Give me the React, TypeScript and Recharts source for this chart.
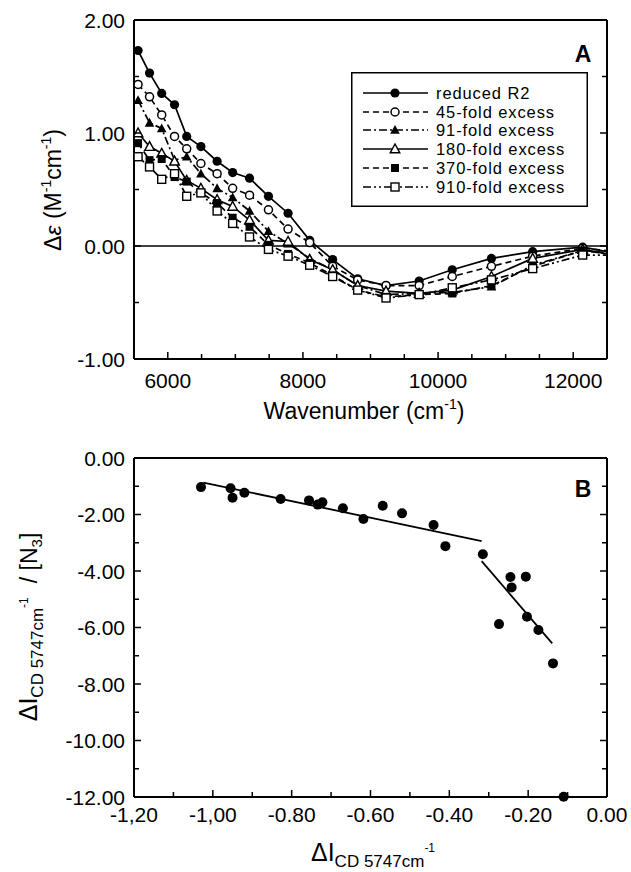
import { ComposedChart, Line, Scatter, XAxis, YAxis, ReferenceLine, Legend, Label } from "recharts";

const FONT = "'Liberation Sans', Arial, Helvetica, sans-serif";

// ---- panel A: CD spectra (marker positions) ----
const wavenumbers = [5560, 5730, 5910, 6100, 6280, 6490, 6730, 6960, 7210, 7490, 7780, 8100, 8440, 8810, 9230, 9720, 10210, 10790, 11400, 12140, 12500];
const reducedR2 = [1.73, 1.53, 1.35, 1.25, 0.97, 0.88, 0.75, 0.65, 0.6, 0.44, 0.29, 0.05, -0.12, -0.29, -0.35, -0.31, -0.21, -0.11, -0.05, -0.01, -0.05];
const fold45 = [1.43, 1.32, 1.16, 0.97, 0.86, 0.73, 0.64, 0.51, 0.45, 0.32, 0.15, 0.03, -0.18, -0.3, -0.35, -0.35, -0.27, -0.18, -0.09, -0.02, -0.04];
const fold91 = [1.29, 1.09, 1.04, 0.76, 0.79, 0.64, 0.51, 0.43, 0.31, 0.13, 0.02, -0.11, -0.21, -0.35, -0.43, -0.42, -0.41, -0.36, -0.17, -0.04, -0.07];
const fold180 = [1.0, 0.88, 0.82, 0.75, 0.58, 0.51, 0.41, 0.35, 0.23, 0.05, 0.04, -0.12, -0.21, -0.35, -0.4, -0.42, -0.39, -0.27, -0.11, -0.03, -0.07];
const fold370 = [0.91, 0.76, 0.77, 0.61, 0.57, 0.47, 0.38, 0.25, 0.17, 0.01, -0.07, -0.15, -0.26, -0.39, -0.45, -0.43, -0.42, -0.35, -0.18, -0.04, -0.06];
const fold910 = [0.79, 0.7, 0.59, 0.64, 0.44, 0.47, 0.31, 0.2, 0.08, -0.03, -0.09, -0.17, -0.27, -0.39, -0.46, -0.43, -0.37, -0.3, -0.2, -0.08, -0.08];
const seriesNames = ["reduced R2", "45-fold excess", "91-fold excess", "180-fold excess", "370-fold excess", "910-fold excess"];

const wnTicks = [5500, 6000, 6500, 7000, 7500, 8000, 8500, 9000, 9500, 10000, 10500, 11000, 11500, 12000, 12500];
const wnLabels: [number, string][] = [[6000, "6000"], [8000, "8000"], [10000, "10000"], [12000, "12000"]];
const epsTicks = [-1, -0.5, 0, 0.5, 1, 1.5, 2];
const epsLabels: [number, string][] = [[-1, "-1.00"], [0, "0.00"], [1, "1.00"], [2, "2.00"]];

// ---- panel B: slope vs CD intensity change ----
const dICD = [-1.03, -0.955, -0.95, -0.92, -0.828, -0.756, -0.734, -0.722, -0.67, -0.618, -0.569, -0.52, -0.44, -0.41, -0.315, -0.274, -0.245, -0.242, -0.206, -0.203, -0.174, -0.137, -0.11];
const dICDperN3 = [-1.03, -1.07, -1.41, -1.23, -1.45, -1.5, -1.65, -1.57, -1.78, -2.16, -1.69, -1.96, -2.37, -3.12, -3.41, -5.88, -4.21, -4.58, -4.2, -5.62, -6.09, -7.27, -11.99];
const fitLowX = [-1.024, -0.318];
const fitLowY = [-0.87, -2.94];
const fitHighX = [-0.318, -0.139];
const fitHighY = [-3.65, -6.56];

const dTicks = [-1.2, -1.1, -1.0, -0.9, -0.8, -0.7, -0.6, -0.5, -0.4, -0.3, -0.2, -0.1, 0];
const dLabels: [number, string][] = [[-1.2, "-1,20"], [-1.0, "-1,00"], [-0.8, "-0.80"], [-0.6, "-0.60"], [-0.4, "-0.40"], [-0.2, "-0.20"], [0, "0.00"]];
const rTicks = [-12, -11, -10, -9, -8, -7, -6, -5, -4, -3, -2, -1, 0];
const rLabels: [number, string][] = [[0, "0.00"], [-2, "-2.00"], [-4, "-4.00"], [-6, "-6.00"], [-8, "-8.00"], [-10, "-10.00"], [-12, "-12.00"]];

const zip = (xs: number[], ys: number[]) => xs.map((x, i) => ({ x, y: ys[i] }));
const specSeries = [reducedR2, fold45, fold91, fold180, fold370, fold910].map((ys) => zip(wavenumbers, ys));

const findLabel = (labels: [number, string][], v: number) => {
  const hit = labels.find(([t]) => Math.abs(t - v) < 1e-6);
  return hit ? hit[1] : null;
};

type Side = "bottom" | "top" | "left" | "right";

function makeTick(side: Side, labels: [number, string][], gap = 0) {
  return (props: any) => {
    const { x, y, payload } = props;
    const text = findLabel(labels, payload.value);
    const len = text !== null ? 7 : 5;
    const line =
      side === "bottom" ? <line x1={x} y1={y} x2={x} y2={y - len} /> : <line x1={x} y1={y} x2={x + len} y2={y} />;
    return (
      <g stroke="#000" strokeWidth={1.5}>
        {line}
        {text && side === "bottom" && (
          <text x={x} y={y + gap} textAnchor="middle" fontSize={21} fontFamily={FONT} fill="#000" stroke="none">
            {text}
          </text>
        )}
        {text && side === "left" && (
          <text x={x - 9} y={y + 7.5} textAnchor="end" fontSize={21} fontFamily={FONT} fill="#000" stroke="none">
            {text}
          </text>
        )}
      </g>
    );
  };
}

// mirrored axes carry the same ticks, unlabeled
function mirrorTick(side: Side, labels: [number, string][]) {
  return (props: any) => {
    const { x, y, payload } = props;
    const len = findLabel(labels, payload.value) ? 7 : 5;
    const line =
      side === "top" ? <line x1={x} y1={y} x2={x} y2={y + len} /> : <line x1={x} y1={y} x2={x - len} y2={y} />;
    return <g stroke="#000" strokeWidth={1.5}>{line}</g>;
  };
}

function Marker({ kind, cx, cy }: { kind: number; cx: number; cy: number }) {
  const s = 4.2;
  const tri = `${cx},${cy - s - 0.8} ${cx - s - 0.6},${cy + s - 0.4} ${cx + s + 0.6},${cy + s - 0.4}`;
  switch (kind) {
    case 0:
      return <circle cx={cx} cy={cy} r={4.6} fill="#000" />;
    case 1:
      return <circle cx={cx} cy={cy} r={4} fill="#fff" stroke="#000" strokeWidth={1.5} />;
    case 2:
      return <polygon points={tri} fill="#000" />;
    case 3:
      return <polygon points={tri} fill="#fff" stroke="#000" strokeWidth={1.4} />;
    case 4:
      return <rect x={cx - 4} y={cy - 4} width={8} height={8} fill="#000" />;
    default:
      return <rect x={cx - 4} y={cy - 4} width={8} height={8} fill="#fff" stroke="#000" strokeWidth={1.4} />;
  }
}

const dashes = ["", "6 4", "8 3 2 3", "", "6 4", "8 3 2 3 2 3"];

function makeDot(kind: number, count: number) {
  return (props: any) => {
    const { cx, cy, index } = props;
    if (index === count - 1 || cx == null) return <g key={`d${kind}-${index}`} />;
    return (
      <g key={`d${kind}-${index}`}>
        <Marker kind={kind} cx={cx} cy={cy} />
      </g>
    );
  };
}

function LegendBox() {
  const rows = [21, 40, 58, 77, 96, 115];
  return (
    <svg width={237} height={135} style={{ display: "block" }}>
      <rect x={0.75} y={0.75} width={235.5} height={133.5} fill="#fff" stroke="#000" strokeWidth={1.5} />
      {seriesNames.map((name, i) => (
        <g key={name}>
          <line x1={12} x2={77} y1={rows[i]} y2={rows[i]} stroke="#000" strokeWidth={1.5} strokeDasharray={dashes[i] || undefined} />
          <Marker kind={i} cx={44} cy={rows[i]} />
          <text x={85} y={rows[i] + 6} fontSize={16.5} letterSpacing={0.9} fontFamily={FONT} fill="#000">
            {name}
          </text>
        </g>
      ))}
    </svg>
  );
}

function PanelA() {
  return (
    <ComposedChart width={631} height={440} margin={{ top: 19, right: 23, bottom: 21, left: 0 }}>
      <XAxis
        xAxisId={0}
        type="number"
        dataKey="x"
        domain={[5500, 12500]}
        ticks={wnTicks}
        interval={0}
        height={60}
        tickSize={0}
        tickMargin={0}
        tick={makeTick("bottom", wnLabels, 29)}
        axisLine={{ stroke: "#000", strokeWidth: 2 }}
        allowDataOverflow
      >
        <Label
          content={() => (
            <text x={364} y={419} textAnchor="middle" fontSize={23} fontFamily={FONT} fill="#000">
              Wavenumber (cm
              <tspan fontSize={14} dy={-10}>-1</tspan>
              <tspan dy={10}>)</tspan>
            </text>
          )}
        />
      </XAxis>
      <XAxis
        xAxisId="top"
        orientation="top"
        type="number"
        domain={[5500, 12500]}
        ticks={wnTicks}
        interval={0}
        height={1}
        tickSize={0}
        tickMargin={0}
        tick={mirrorTick("top", wnLabels)}
        axisLine={{ stroke: "#000", strokeWidth: 2 }}
        allowDataOverflow
      />
      <YAxis
        yAxisId={0}
        type="number"
        domain={[-1, 2]}
        ticks={epsTicks}
        interval={0}
        width={134}
        tickSize={0}
        tickMargin={0}
        tick={makeTick("left", epsLabels)}
        axisLine={{ stroke: "#000", strokeWidth: 2 }}
        allowDataOverflow
      >
        <Label
          content={() => (
            <text transform="translate(61,190) rotate(-90)" textAnchor="middle" fontSize={23} fontFamily={FONT} fill="#000">
              Δ<tspan fontStyle="italic">ε</tspan> (M
              <tspan fontSize={14} dy={-10}>-1</tspan>
              <tspan dy={10}>cm</tspan>
              <tspan fontSize={14} dy={-10}>-1</tspan>
              <tspan dy={10}>)</tspan>
            </text>
          )}
        />
      </YAxis>
      <YAxis
        yAxisId="right"
        orientation="right"
        type="number"
        domain={[-1, 2]}
        ticks={epsTicks}
        interval={0}
        width={1}
        tickSize={0}
        tickMargin={0}
        tick={mirrorTick("right", epsLabels)}
        axisLine={{ stroke: "#000", strokeWidth: 2 }}
        allowDataOverflow
      />
      <ReferenceLine y={0} stroke="#000" strokeWidth={1.3} />
      {specSeries.map((data, i) => (
        <Line
          key={seriesNames[i]}
          data={data}
          dataKey="y"
          name={seriesNames[i]}
          type="linear"
          stroke="#000"
          strokeWidth={1.7}
          strokeDasharray={dashes[i] || undefined}
          dot={makeDot(i, data.length)}
          activeDot={false}
          isAnimationActive={false}
        />
      ))}
      <Legend
        layout="vertical"
        align="center"
        verticalAlign="middle"
        content={() => <LegendBox />}
        wrapperStyle={{ position: "absolute", left: 351, top: 72, width: 237, height: 135 }}
      />
      <text x={583} y={62} textAnchor="middle" fontSize={23} fontWeight="bold" fontFamily={FONT} fill="#000">
        A
      </text>
    </ComposedChart>
  );
}

function PanelB() {
  const points = zip(dICD, dICDperN3);
  return (
    <ComposedChart width={631} height={432} margin={{ top: 17, right: 23, bottom: 15, left: 0 }}>
      <XAxis
        xAxisId={0}
        type="number"
        dataKey="x"
        domain={[-1.2, 0]}
        ticks={dTicks}
        interval={0}
        height={60}
        tickSize={0}
        tickMargin={0}
        tick={makeTick("bottom", dLabels, 25)}
        axisLine={{ stroke: "#000", strokeWidth: 2 }}
      >
        <Label
          content={() => (
            <text x={373} y={421} textAnchor="middle" fontSize={25} fontFamily={FONT} fill="#000">
              ΔI
              <tspan fontSize={17} dy={6}>CD 5747cm</tspan>
              <tspan fontSize={12} dy={-15}>-1</tspan>
            </text>
          )}
        />
      </XAxis>
      <XAxis
        xAxisId="top"
        orientation="top"
        type="number"
        domain={[-1.2, 0]}
        ticks={dTicks}
        interval={0}
        height={1}
        tickSize={0}
        tickMargin={0}
        tick={mirrorTick("top", dLabels)}
        axisLine={{ stroke: "#000", strokeWidth: 2 }}
        allowDataOverflow
      />
      <YAxis
        yAxisId={0}
        type="number"
        domain={[-12, 0]}
        ticks={rTicks}
        interval={0}
        width={134}
        tickSize={0}
        tickMargin={0}
        tick={makeTick("left", rLabels)}
        axisLine={{ stroke: "#000", strokeWidth: 2 }}
      >
        <Label
          content={() => (
            <text transform="translate(37,187) rotate(-90)" textAnchor="middle" fontSize={25} fontFamily={FONT} fill="#000">
              ΔI
              <tspan fontSize={17} dy={6}>CD 5747cm</tspan>
              <tspan fontSize={12} dy={-15}>-1</tspan>
              <tspan fontSize={23} dy={9} dx={14}>/ [N</tspan>
              <tspan fontSize={15} dy={5}>3</tspan>
              <tspan fontSize={23} dy={-5}>]</tspan>
            </text>
          )}
        />
      </YAxis>
      <YAxis
        yAxisId="right"
        orientation="right"
        type="number"
        domain={[-12, 0]}
        ticks={rTicks}
        interval={0}
        width={1}
        tickSize={0}
        tickMargin={0}
        tick={mirrorTick("right", rLabels)}
        axisLine={{ stroke: "#000", strokeWidth: 2 }}
        allowDataOverflow
      />
      <Line data={zip(fitLowX, fitLowY)} dataKey="y" type="linear" stroke="#000" strokeWidth={1.8} dot={false} activeDot={false} isAnimationActive={false} />
      <Line data={zip(fitHighX, fitHighY)} dataKey="y" type="linear" stroke="#000" strokeWidth={1.8} dot={false} activeDot={false} isAnimationActive={false} />
      <Scatter
        data={points}
        dataKey="y"
        fill="#000"
        isAnimationActive={false}
        shape={(p: any) => <circle cx={p.cx} cy={p.cy} r={5} fill="#000" />}
      />
      <text x={583} y={57} textAnchor="middle" fontSize={23} fontWeight="bold" fontFamily={FONT} fill="#000">
        B
      </text>
    </ComposedChart>
  );
}

export default function App() {
  return (
    <div style={{ position: "absolute", left: 0, top: 0, width: 631, height: 872, background: "#fff", fontFamily: FONT }}>
      <div style={{ position: "absolute", left: 0, top: 0 }}>
        <PanelA />
      </div>
      <div style={{ position: "absolute", left: 0, top: 440 }}>
        <PanelB />
      </div>
    </div>
  );
}
